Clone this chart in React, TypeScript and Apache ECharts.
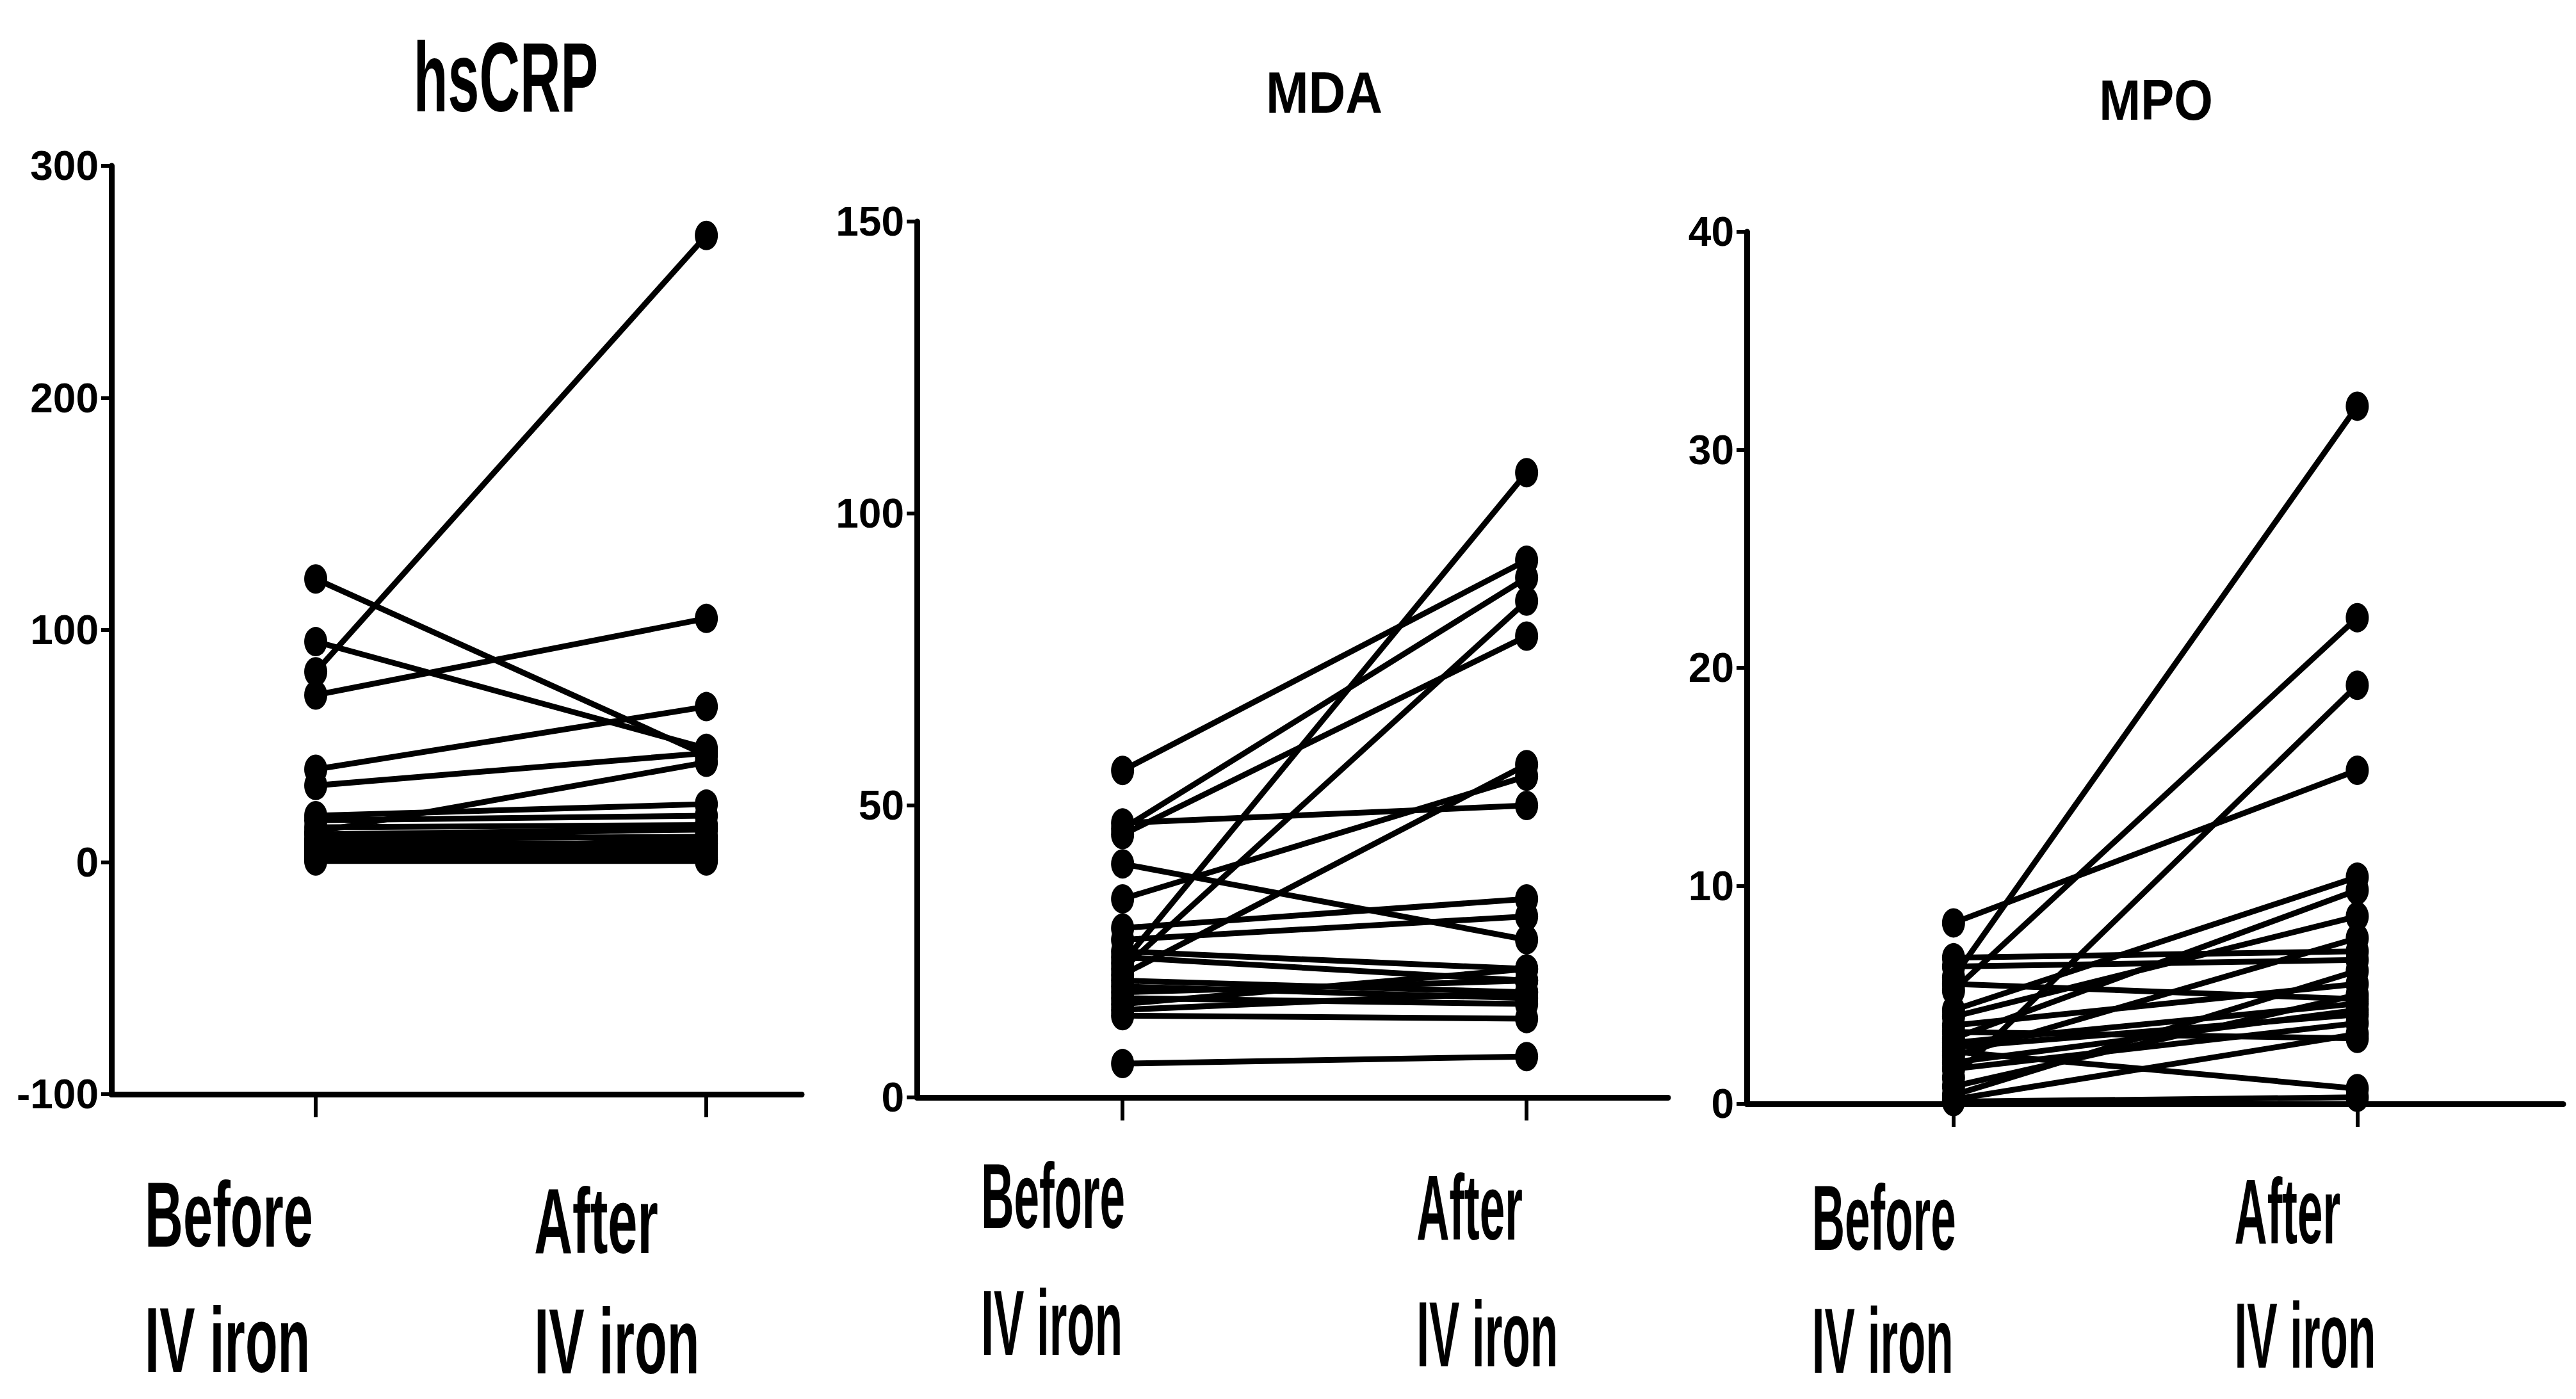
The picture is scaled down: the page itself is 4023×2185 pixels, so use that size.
import React, { useEffect, useRef } from "react";
import * as echarts from "echarts";

// ---- data ----
const CATEGORIES = ["Before\nIV iron", "After\nIV iron"];
const TITLES = ["hsCRP", "MDA", "MPO"];

const HSCRP_BEFORE = [122, 95, 82, 72, 40, 33, 13, 20, 18, 15, 12, 10, 8, 6, 5, 3, 2, 1, 0.5, 4, 7, 9];
const HSCRP_AFTER = [46, 49, 270, 105, 67, 47, 43, 25, 20, 16, 14, 11, 8, 6, 4, 3, 1, 2, 0.5, 10, 5, 15];

const MDA_BEFORE = [56, 46, 45, 47, 40, 34, 23, 22, 21, 29, 27, 25, 24, 20, 18, 17, 16, 15, 14, 19, 5.8];
const MDA_AFTER = [92, 89, 79, 50, 27, 55, 107, 85, 57, 34, 31, 22, 20, 18, 20, 16, 22, 18, 13.5, 17, 7];

const MPO_BEFORE = [8.3, 5.8, 5.2, 1.2, 6.7, 4.3, 3.0, 6.3, 4.0, 2.2, 3.6, 2.8, 2.6, 2.4, 0.4, 0.2, 0.1, 1.6, 5.5, 3.3, 0.8, 1.9];
const MPO_AFTER = [15.3, 32, 22.3, 19.2, 7.0, 10.4, 9.8, 6.6, 8.6, 7.6, 5.5, 4.6, 4.1, 0.7, 6.1, 3.2, 0.3, 3.7, 4.8, 3.0, 5.0, 4.3];

const Y_MIN = [-100, 0, 0];
const Y_MAX = [300, 150, 40];
const Y_INTERVAL = [100, 50, 10];

// ---- layout / style ----
const GRIDS = [
  { left: 166, top: 251, width: 1078, height: 1450 },
  { left: 1424, top: 338, width: 1173, height: 1368 },
  { left: 2720, top: 354, width: 1275, height: 1362 },
];
const X_RANGE = [
  [0.477, 2.244],
  [0.491, 2.35],
  [0.488, 2.51],
];
const FONT = "'Liberation Sans', Arial, sans-serif";
const TITLE_STYLE = [
  { x: 782, y: 113, size: 100, sx: 0.88, sy: 1.54 },
  { x: 2060, y: 136, size: 80, sx: 1.0, sy: 1.14 },
  { x: 3359, y: 148, size: 78, sx: 1.0, sy: 1.14 },
];
// category label placement relative to tick x / axis y
const LABEL_DX = [
  [-267, -269],
  [-221, -172],
  [-221, -192],
];
const LABEL_DY = [
  [[188, 384], [198, 386]],
  [[154, 352], [172, 370]],
  [[178, 370], [168, 362]],
];
const LABEL_SX = [0.83, 0.71, 0.71];
const LABEL_SY = 1.45;

export default function App() {
  const ref = useRef<HTMLDivElement>(null);

  useEffect(() => {
    if (!ref.current) return;
    const chart = echarts.init(ref.current, undefined, { renderer: "svg" });
    const befores = [HSCRP_BEFORE, MDA_BEFORE, MPO_BEFORE];
    const afters = [HSCRP_AFTER, MDA_AFTER, MPO_AFTER];

    const series: any[] = [];
    for (let p = 0; p < 3; p++) {
      for (let i = 0; i < befores[p].length; i++) {
        series.push({
          type: "line",
          xAxisIndex: p,
          yAxisIndex: p,
          data: [
            [1, befores[p][i]],
            [2, afters[p][i]],
          ],
          symbol: "circle",
          symbolSize: [36, 46],
          itemStyle: { color: "#000" },
          lineStyle: { color: "#000", width: 9 },
          silent: true,
        });
      }
    }

    const option: any = {
      animation: false,
      backgroundColor: "#fff",
      grid: GRIDS.map((g) => ({ ...g, containLabel: false })),
      xAxis: GRIDS.map((_, p) => ({
        type: "value",
        gridIndex: p,
        min: X_RANGE[p][0],
        max: X_RANGE[p][1],
        splitLine: { show: false },
        axisLine: { show: true, onZero: false, lineStyle: { color: "#000", width: 9 } },
        axisTick: {
          show: true,
          customValues: [1, 2],
          length: 36,
          lineStyle: { color: "#000", width: 6 },
        },
        axisLabel: { show: false },
      })),
      yAxis: GRIDS.map((_, p) => ({
        type: "value",
        gridIndex: p,
        min: Y_MIN[p],
        max: Y_MAX[p],
        interval: Y_INTERVAL[p],
        splitLine: { show: false },
        axisLine: { show: true, onZero: false, lineStyle: { color: "#000", width: 9 } },
        axisTick: { show: true, length: 16, lineStyle: { color: "#000", width: 6 } },
        axisLabel: {
          margin: 20,
          color: "#000",
          fontFamily: FONT,
          fontWeight: "bold",
          fontSize: 64,
        },
      })),
      series,
    };
    chart.setOption(option);

    const graphics: any[] = TITLES.map((t, p) => ({
      type: "text",
      x: TITLE_STYLE[p].x,
      y: TITLE_STYLE[p].y,
      scaleX: TITLE_STYLE[p].sx,
      scaleY: TITLE_STYLE[p].sy,
      style: {
        text: t,
        fill: "#000",
        font: `bold ${TITLE_STYLE[p].size}px ${FONT}`,
        align: "center",
        verticalAlign: "middle",
      },
    }));
    for (let p = 0; p < 3; p++) {
      const axisY = chart.convertToPixel({ yAxisIndex: p }, Y_MIN[p]) as number;
      CATEGORIES.forEach((cat, c) => {
        const tickX = chart.convertToPixel({ xAxisIndex: p }, c + 1) as number;
        cat.split("\n").forEach((line, li) => {
          graphics.push({
            type: "text",
            x: tickX + LABEL_DX[p][c],
            y: axisY + LABEL_DY[p][c][li],
            scaleX: LABEL_SX[p],
            scaleY: LABEL_SY,
            style: {
              text: line,
              fill: "#000",
              font: `bold 100px ${FONT}`,
              align: "left",
              verticalAlign: "middle",
            },
          });
        });
      });
    }
    chart.setOption({ graphic: graphics });
    return () => chart.dispose();
  }, []);

  return <div ref={ref} style={{ width: 4007, height: 2169 }} />;
}
